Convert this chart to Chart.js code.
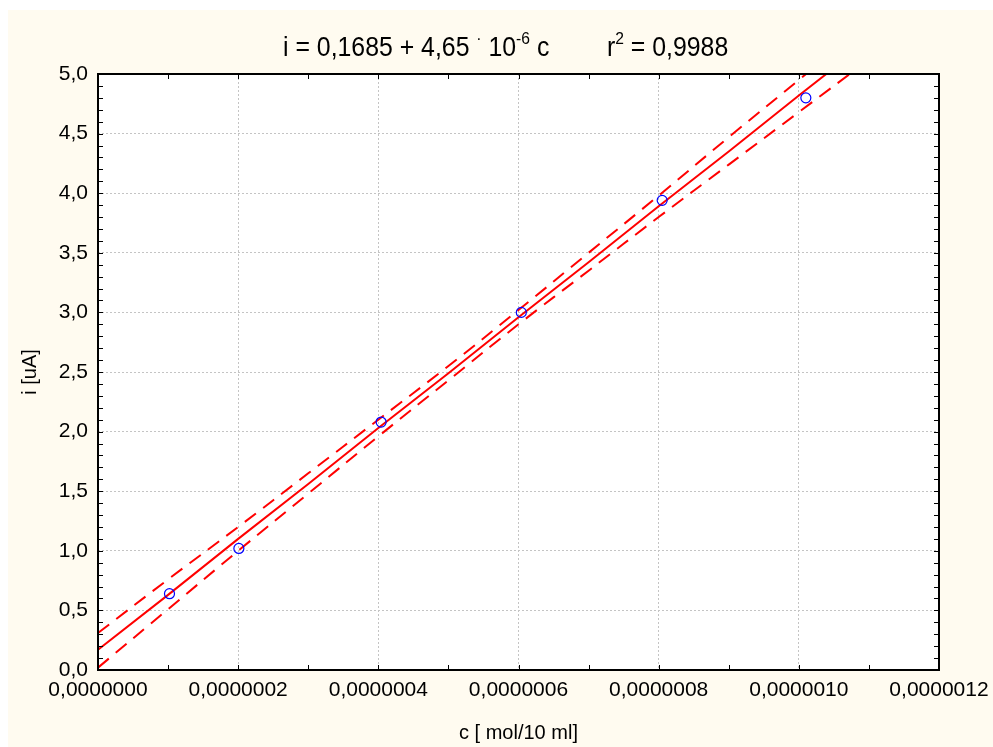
<!DOCTYPE html>
<html>
<head>
<meta charset="utf-8">
<script src="https://cdn.jsdelivr.net/npm/chart.js@4.4.0/dist/chart.umd.min.js"></script>
<style>
  html, body { margin: 0; padding: 0; background: #ffffff; }
  #wrap { width: 993px; height: 747px; }
</style>
</head>
<body>
<div id="wrap"><canvas id="grafico" width="993" height="747"></canvas></div>
<script>
// measured points (c in mol/10 ml, i in uA)
const conc = [1.02e-7, 2.01e-7, 4.04e-7, 6.04e-7, 8.05e-7, 1.01e-6];
const corrente = [0.64, 1.02, 2.08, 3.00, 3.94, 4.80];

// regression line and 95% band
const cLinha = [0, 1e-7, 2e-7, 3e-7, 4e-7, 5e-7, 6e-7, 7e-7, 8e-7, 9e-7, 1e-6, 1.1e-6];
const iLinha = [0.17, 0.63, 1.10, 1.56, 2.03, 2.49, 2.96, 3.42, 3.89, 4.35, 4.82, 5.28];
const iSup = [0.31, 0.76, 1.20, 1.65, 2.10, 2.55, 3.02, 3.50, 3.98, 4.47, 4.95, 5.44];
const iInf = [0.02, 0.51, 1.00, 1.48, 1.96, 2.43, 2.90, 3.35, 3.80, 4.24, 4.68, 5.12];

// title pieces: [text, superscript?]
const tituloEq = [["i = 0,1685 + 4,65 ", false], ["\u00B7", true], [" 10", false], ["-6", true], [" c", false]];
const tituloR = [["r", false], ["2", true], [" = 0,9988", false]];

const xMin = 0, xMax = 1.2e-6, xPasso = 2e-7, xMenor = 1e-7;
const yMin = 0, yMax = 5, yPasso = 0.5, yMenor = 0.1;

const fonte = "'Liberation Sans', Arial, sans-serif";
const pares = (xs, ys) => xs.map((x, k) => ({ x: x, y: ys[k] }));

function escreve(ctx, partes, x, base) {
  let px = x;
  partes.forEach(([txt, sup]) => {
    ctx.font = (sup ? "17px " : "27px ") + fonte;
    ctx.fillText(txt, px, sup ? base - 12 : base);
    px += ctx.measureText(txt).width;
  });
}

const fundo = {
  id: "fundo",
  beforeDraw(chart) {
    const ctx = chart.ctx;
    const a = chart.chartArea;
    ctx.save();
    ctx.fillStyle = "#fffbf0";
    ctx.fillRect(8, 10, chart.width - 8, chart.height - 10);
    ctx.fillStyle = "#ffffff";
    ctx.fillRect(a.left, a.top, a.right - a.left, a.bottom - a.top);
    ctx.fillStyle = "#000000";
    ctx.textAlign = "left";
    ctx.textBaseline = "alphabetic";
    // glyphs in the original are narrow, so squeeze horizontally
    const k = 0.92;
    ctx.scale(k, 1);
    escreve(ctx, tituloEq, 283 / k, 56);
    escreve(ctx, tituloR, 607 / k, 56);
    ctx.restore();
  },
  afterDatasetsDraw(chart) {
    const ctx = chart.ctx;
    const a = chart.chartArea;
    const sx = chart.scales.x, sy = chart.scales.y;
    ctx.save();
    ctx.strokeStyle = "#000000";
    ctx.lineWidth = 1;
    ctx.beginPath();
    for (let v = xMin; v <= xMax + 1e-12; v += xMenor) {
      const px = Math.round(sx.getPixelForValue(v)) + 0.5;
      ctx.moveTo(px, a.bottom); ctx.lineTo(px, a.bottom - 5);
      ctx.moveTo(px, a.top); ctx.lineTo(px, a.top + 5);
    }
    for (let v = yMin; v <= yMax + 1e-9; v += yMenor) {
      const py = Math.round(sy.getPixelForValue(v)) + 0.5;
      ctx.moveTo(a.left, py); ctx.lineTo(a.left + 5, py);
      ctx.moveTo(a.right, py); ctx.lineTo(a.right - 5, py);
    }
    ctx.stroke();
    ctx.lineWidth = 2;
    ctx.strokeRect(a.left, a.top, a.right - a.left, a.bottom - a.top);
    ctx.restore();
  }
};

new Chart(document.getElementById("grafico"), {
  type: "scatter",
  data: {
    datasets: [
      {
        label: "dados",
        data: pares(conc, corrente),
        showLine: false,
        pointStyle: "circle",
        pointRadius: 5,
        pointBorderColor: "#0000ff",
        pointBackgroundColor: "rgba(0,0,0,0)",
        pointBorderWidth: 1.2,
        order: 0
      },
      {
        label: "ajuste",
        data: pares(cLinha, iLinha),
        showLine: true,
        pointRadius: 0,
        borderColor: "#ff0000",
        borderWidth: 2,
        order: 1
      },
      {
        label: "sup",
        data: pares(cLinha, iSup),
        showLine: true,
        pointRadius: 0,
        tension: 0.4,
        borderColor: "#ff0000",
        borderWidth: 2,
        borderDash: [14, 9],
        order: 2
      },
      {
        label: "inf",
        data: pares(cLinha, iInf),
        showLine: true,
        pointRadius: 0,
        tension: 0.4,
        borderColor: "#ff0000",
        borderWidth: 2,
        borderDash: [14, 9],
        order: 2
      }
    ]
  },
  options: {
    responsive: false,
    animation: false,
    layout: { padding: { top: 74, right: 54, left: 0, bottom: 0 } },
    plugins: {
      legend: { display: false },
      tooltip: { enabled: false },
      title: { display: false }
    },
    scales: {
      x: {
        type: "linear",
        min: xMin,
        max: xMax,
        afterFit: (s) => { s.height = 77; s.paddingLeft = 0; s.paddingRight = 0; },
        ticks: {
          stepSize: xPasso,
          padding: 8,
          color: "#000000",
          font: { family: fonte, size: 21 },
          callback: (v) => v.toFixed(7).replace(".", ",")
        },
        grid: {
          color: "#c4c4c4",
          lineWidth: 1,
          drawTicks: false,
          tickLength: 0
        },
        border: { display: false, dash: [2, 2] },
        title: {
          display: true,
          text: "c [ mol/10 ml]",
          color: "#000000",
          font: { family: fonte, size: 20 },
          padding: { top: 0, bottom: 2 }
        }
      },
      y: {
        type: "linear",
        min: yMin,
        max: yMax,
        afterFit: (s) => { s.width = 98; s.paddingTop = 0; s.paddingBottom = 0; },
        ticks: {
          stepSize: yPasso,
          padding: 10,
          color: "#000000",
          font: { family: fonte, size: 21 },
          callback: (v) => v.toFixed(1).replace(".", ",")
        },
        grid: {
          color: "#c4c4c4",
          lineWidth: 1,
          drawTicks: false,
          tickLength: 0
        },
        border: { display: false, dash: [2, 2] },
        title: {
          display: true,
          text: "i [uA]",
          color: "#000000",
          font: { family: fonte, size: 20 },
          padding: { top: 18, bottom: 0 }
        }
      }
    }
  },
  plugins: [fundo]
});
</script>
</body>
</html>
